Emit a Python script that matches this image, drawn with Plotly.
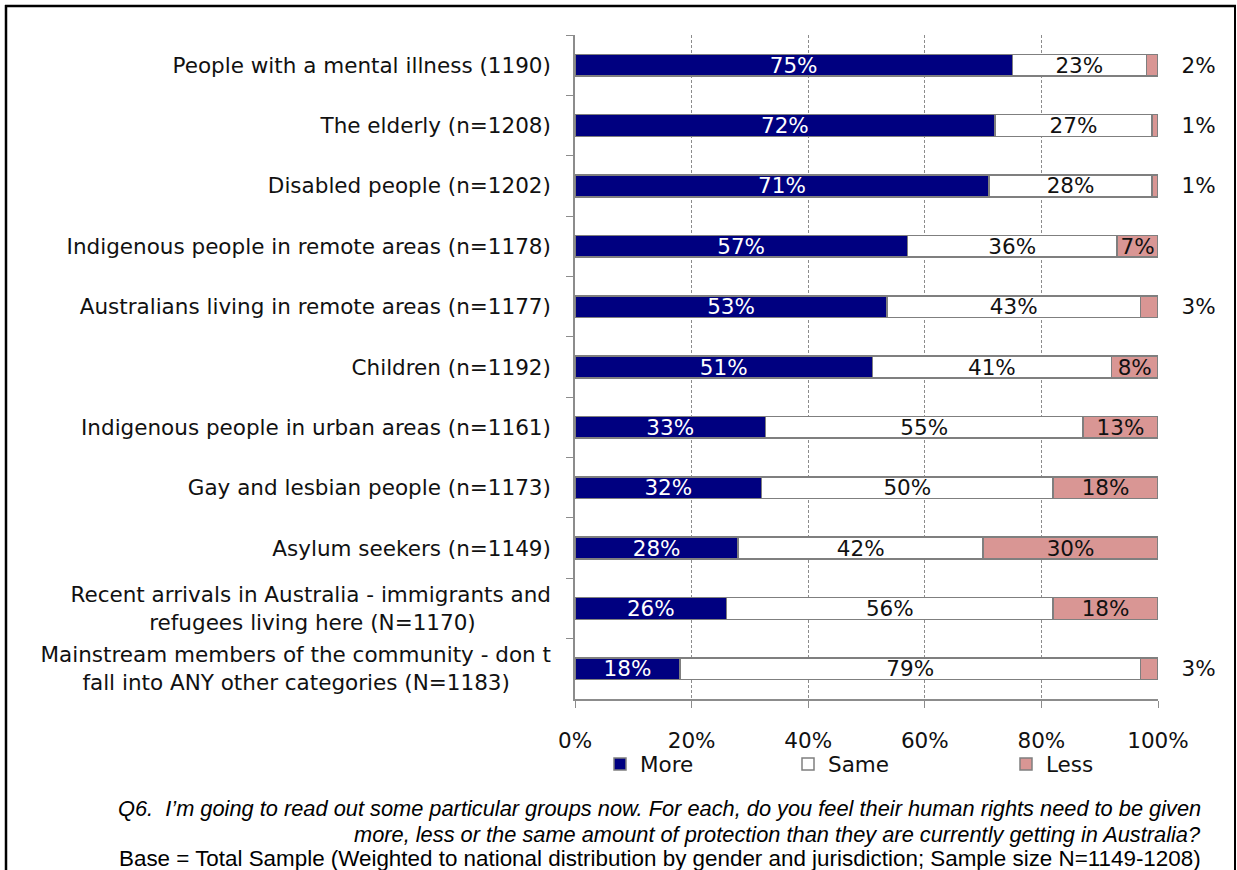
import plotly.graph_objects as go

# Survey groups, top to bottom
categories = [
    "People with a mental illness (1190)",
    "The elderly (n=1208)",
    "Disabled people (n=1202)",
    "Indigenous people in remote areas (n=1178)",
    "Australians living in remote areas (n=1177)",
    "Children (n=1192)",
    "Indigenous people in urban areas (n=1161)",
    "Gay and lesbian people (n=1173)",
    "Asylum seekers (n=1149)",
    "Recent arrivals in Australia - immigrants and<br>refugees living here (N=1170)" + "\u00a0" * 11,
    "Mainstream members of the community - don t<br>fall into ANY other categories (N=1183)" + "\u00a0" * 6,
]

more = [75, 72, 71, 57, 53, 51, 33, 32, 28, 26, 18]
same = [23, 27, 28, 36, 43, 41, 55, 50, 42, 56, 79]
less = [2, 1, 1, 7, 3, 8, 13, 18, 30, 18, 3]

x_ticks = [0, 20, 40, 60, 80, 100]
x_tick_labels = ["0%", "20%", "40%", "60%", "80%", "100%"]

FONT = "DejaVu Sans, Verdana, sans-serif"
FS = 21.5
NAVY = "#000080"
PINK = "#D99694"
EDGE = "#7F7F7F"
CAP_FONT = "Liberation Sans, Arial, sans-serif"

# Small "Less" segments get their label outside the bar end
less_pos = ["inside" if v >= 5 else "outside" for v in less]
less_text = [f"{v}%" if v >= 5 else "\u00a0" * 3 + f"{v}%" for v in less]

fig = go.Figure()
fig.add_trace(go.Bar(
    name="More", y=categories, x=more, orientation="h", legend="legend", showlegend=True,
    marker=dict(color=NAVY, line=dict(color=EDGE, width=1.5)),
    text=[f"{v}%" for v in more], textposition="inside", insidetextanchor="middle",
    textfont=dict(color="white", size=FS, family=FONT), constraintext="none",
))
fig.add_trace(go.Bar(
    name="Same", y=categories, x=same, orientation="h", legend="legend2", showlegend=True,
    marker=dict(color="white", line=dict(color=EDGE, width=1.5)),
    text=[f"{v}%" for v in same], textposition="inside", insidetextanchor="middle",
    textfont=dict(color="#111111", size=FS, family=FONT), constraintext="none",
))
fig.add_trace(go.Bar(
    name="Less", y=categories, x=less, orientation="h", legend="legend3", showlegend=True,
    marker=dict(color=PINK, line=dict(color=EDGE, width=1.5)),
    text=less_text, textposition=less_pos, insidetextanchor="middle",
    textfont=dict(color="#111111", size=FS, family=FONT), constraintext="none",
    cliponaxis=False,
))

W, H = 1237, 870
L, R, T, B = 575, 79, 35, 171
pw, ph = W - L - R, H - T - B


def px(xp):
    return (xp - L) / pw


def py(yp):
    return (H - B - yp) / ph


def legend_at(xpix):
    return dict(
        orientation="h", x=px(xpix), y=py(764), xanchor="left", yanchor="middle",
        font=dict(size=FS, family=FONT), itemwidth=30, bgcolor="rgba(0,0,0,0)",
    )


fig.update_layout(
    width=W, height=H,
    margin=dict(l=L, r=R, t=T, b=B),
    showlegend=True,
    barmode="stack", barnorm="percent", bargap=0.64,
    plot_bgcolor="white", paper_bgcolor="white",
    font=dict(family=FONT, size=FS, color="#111111"),
    xaxis=dict(
        range=[0, 100], tickmode="array", tickvals=x_ticks, ticktext=x_tick_labels,
        showgrid=True, gridcolor="#8C8C8C", griddash="3px,2px", gridwidth=1,
        showline=True, linecolor="#8C8C8C", linewidth=1.5,
        ticks="outside", ticklen=7, tickcolor="#8C8C8C",
        ticklabelstandoff=14, zeroline=False, fixedrange=True,
    ),
    yaxis=dict(
        type="category", autorange="reversed", tickson="boundaries",
        ticks="outside", ticklen=7, tickcolor="#8C8C8C",
        showline=True, linecolor="#8C8C8C", linewidth=1.5,
        showgrid=False, ticklabelstandoff=18,
    ),
    legend=legend_at(600),
    legend2=legend_at(788),
    legend3=legend_at(1006),
    shapes=[
        dict(type="line", xref="paper", yref="paper", x0=px(6), x1=px(6), y0=py(5), y1=py(872),
             line=dict(color="black", width=2.5)),
        dict(type="line", xref="paper", yref="paper", x0=px(5), x1=px(1236), y0=py(6), y1=py(6),
             line=dict(color="black", width=2.5)),
        dict(type="line", xref="paper", yref="paper", x0=px(1235), x1=px(1235), y0=py(5), y1=py(872),
             line=dict(color="black", width=2)),
    ],
    annotations=[
        dict(xref="paper", yref="paper", x=px(1203), y=py(808), xanchor="right", yanchor="middle",
             showarrow=False, align="right",
             text="<i>Q6.  I\u2019m going to read out some particular groups now. For each, do you feel their human rights need to be given</i>",
             font=dict(family=CAP_FONT, size=21.8, color="black")),
        dict(xref="paper", yref="paper", x=px(1203), y=py(834), xanchor="right", yanchor="middle",
             showarrow=False, align="right",
             text="<i>more, less or the same amount of protection than they are currently getting in Australia?</i>",
             font=dict(family=CAP_FONT, size=21.8, color="black")),
        dict(xref="paper", yref="paper", x=px(1203), y=py(859), xanchor="right", yanchor="middle",
             showarrow=False, align="right",
             text="Base = Total Sample (Weighted to national distribution by gender and jurisdiction; Sample size N=1149-1208)",
             font=dict(family=CAP_FONT, size=22.4, color="black")),
    ],
)

fig.write_html("out.html")
